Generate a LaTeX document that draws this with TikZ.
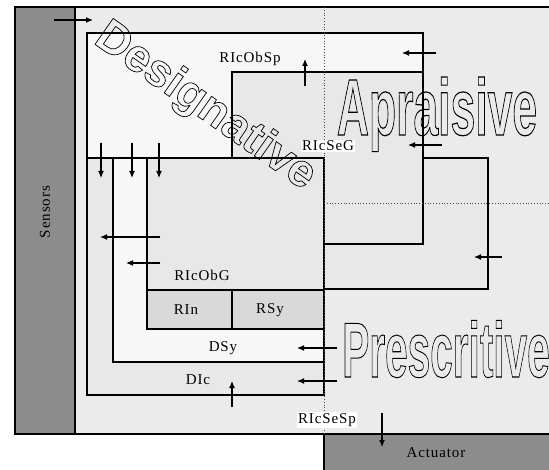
\documentclass[tikz,border=0pt]{standalone}
\usepackage{fontspec}
\setmainfont{Liberation Serif}
\newfontfamily\lblfont[LetterSpace=6]{Liberation Serif}
\newfontfamily\bigfont{Liberation Sans}
\usetikzlibrary{arrows.meta}
\tikzset{
  box/.style = {draw, line width=1.1pt},
  arr/.style = {-{Latex[length=7pt,width=6pt]}, line width=1.1pt},
  lbl/.style = {font=\lblfont\fontsize{15}{17}\selectfont, inner sep=1pt},
  hollow/.style = {font=\bigfont\bfseries, inner sep=0pt},
  grid line/.style = {dotted, black!70, line width=.8pt}
}
% stroke-only text (text render mode 1)
\newcommand{\hollowtext}[2]{\special{pdf:literal direct 1 Tr #1 w}#2\special{pdf:literal direct 0 Tr}}

\begin{document}
\begin{tikzpicture}[x=1pt, y=-1pt, thick]
  \useasboundingbox (0,0) rectangle (549,470);
  % frame, sensors and actuator
  \fill[black!8] (15,7) rectangle (549,434);
  \draw[box] (549,7) -- (15,7) -- (15,434) -- (324,434);
  \draw[box, fill=black!45] (15,7) rectangle (75,434);
  \draw[box, fill=black!45] (324,434) rectangle (551,472);
  % designative part
  \draw[box, fill=black!3] (87,33) -- (423,33) -- (423,72) -- (232,72)
    -- (232,158) -- (87,158) -- cycle;
  % prescritive part
  \draw[box, fill=black!9] (87,158) -- (488,158) -- (488,289) -- (324,289)
    -- (324,395) -- (87,395) -- cycle;
  \draw[box, fill=black!9] (232,72) rectangle (423,244);
  \draw[box, fill=black!3] (113,158) rectangle (324,362);
  \draw[box, fill=black!9] (147,158) rectangle (324,329);
  \draw[box, fill=black!15] (147,290) rectangle (232,329);
  \draw[box, fill=black!15] (232,290) rectangle (324,329);
  % dotted cross
  \draw[grid line] (324,7) -- (324,434);
  \draw[grid line] (324,203) -- (549,203);
  % arrows
  \draw[arr] (54,20) -- (93,20);
  \foreach \x in {101,132,159}
    \draw[arr] (\x,143) -- (\x,178);
  \draw[arr] (160,237) -- (100,237);
  \draw[arr] (160,263) -- (126,263);
  \draw[arr] (436,53) -- (402,53);
  \draw[arr] (305,86) -- (305,59);
  \draw[arr] (442,145) -- (408,145);
  \draw[arr] (502,257) -- (474,257);
  \draw[arr] (337,348) -- (297,348);
  \draw[arr] (337,381) -- (297,381);
  \draw[arr] (232,407) -- (232,381);
  \draw[arr] (382,413) -- (382,447);
  % labels
  \node[lbl, rotate=90] (sensors) at (45,212) {Sensors};
  \node[lbl] (actuator) at (436,453) {Actuator};
  \node[lbl] (ricobsp) at (250,59) {RIcObSp};
  \node[lbl, fill=white] (ricseg) at (328,146) {RIcSeG};
  \node[lbl] (ricobg) at (202,275) {RIcObG};
  \node[lbl] (rin) at (186,310) {RIn};
  \node[lbl] (rsy) at (270,310) {RSy};
  \node[lbl] (dsy) at (223,348) {DSy};
  \node[lbl] (dic) at (198,380) {DIc};
  \node[lbl, fill=white] (ricsesp) at (327,420) {RIcSeSp};
  % hollow words
  \node[hollow, rotate=-35] (designative) at (205,107)
    {\fontsize{46}{46}\selectfont\hollowtext{.7}{Designative}};
  \node[hollow, anchor=base, xscale=.556] (apraisive) at (437,135)
    {\fontsize{80}{80}\selectfont\hollowtext{1.2}{Apraisive}};
  \node[hollow, anchor=base, xscale=.52] (prescritive) at (446,377)
    {\fontsize{78}{78}\selectfont\hollowtext{1}{Prescritive}};
\end{tikzpicture}
\end{document}
